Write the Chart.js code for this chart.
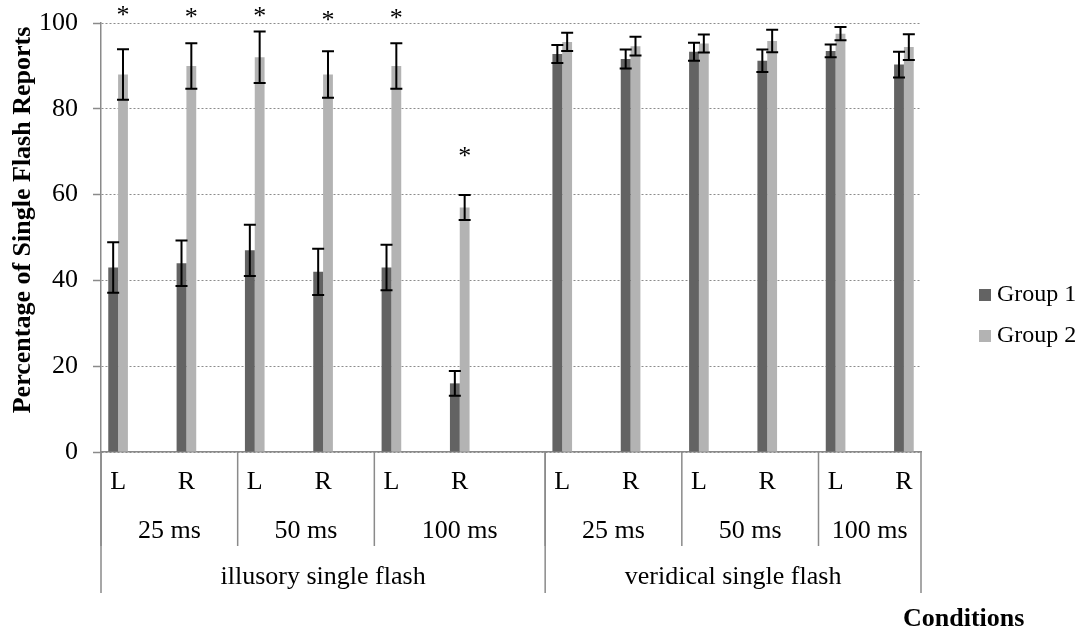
<!DOCTYPE html>
<html>
<head>
<meta charset="utf-8">
<script src="https://cdn.jsdelivr.net/npm/chart.js@4.4.0/dist/chart.umd.min.js"></script>
<style>
  html, body { margin: 0; padding: 0; background: #fff; }
  #wrap { width: 1080px; height: 633px; }
</style>
</head>
<body>
<div id="wrap"><canvas id="myChart" width="1080" height="633"></canvas></div>
<script>
// --- data ---
const sides = ['L', 'R', 'L', 'R', 'L', 'R', 'L', 'R', 'L', 'R', 'L', 'R'];
const durations = ['25 ms', '50 ms', '100 ms', '25 ms', '50 ms', '100 ms'];
const conditions = ['illusory single flash', 'veridical single flash'];

const group1 = [43, 44, 47, 42, 43, 16, 92.8, 91.6, 93.3, 91.2, 93.5, 90.3];
const group1Err = [5.9, 5.3, 6, 5.4, 5.3, 2.9, 2.1, 2.2, 2.1, 2.6, 1.5, 3];
const group2 = [88, 90, 92, 88, 90, 57, 95.6, 94.6, 95.2, 95.8, 97.5, 94.4];
const group2Err = [5.9, 5.3, 6, 5.4, 5.3, 2.9, 2.1, 2.2, 2.1, 2.6, 1.55, 3];
// level (in % units) where the significance asterisk sits, null = none
const starLevels = [102.6, 102.1, 102.4, 101.3, 101.8, 69.6, null, null, null, null, null, null];

const yTicks = [0, 20, 40, 60, 80, 100];

const serif = "'Liberation Serif', 'Times New Roman', serif";
const axisGray = '#8a8a8a';

// the original axis puts each bar pair in a half-width slot, with a wider gap
// between the two conditions -> 24 half-slots on a category axis
const SLOTS = 24;
const slotOf = i => (i < 6 ? 2 * i : 2 * i + 1);

function spread(values) {
    const out = new Array(SLOTS).fill(null);
    values.forEach((v, i) => { out[slotOf(i)] = v; });
    return out;
}
const slotLabels = spread(sides).map(s => s || '');

const data = {
    labels: slotLabels,
    datasets: [{
        label: 'Group 1',
        backgroundColor: '#636363',
        data: spread(group1),
        errors: spread(group1Err),
    }, {
        label: 'Group 2',
        backgroundColor: '#b3b3b3',
        data: spread(group2),
        errors: spread(group2Err),
    }],
};

// error bars, asterisks, the nested category labels and the legend
const extras = {
    id: 'extras',
    afterDatasetsDraw(chart) {
        const { ctx, scales: { y } } = chart;
        ctx.save();
        ctx.strokeStyle = '#000';
        ctx.lineWidth = 2;
        chart.data.datasets.forEach((ds, di) => {
            chart.getDatasetMeta(di).data.forEach((bar, j) => {
                const v = ds.data[j];
                if (v == null) return;
                const top = y.getPixelForValue(v + ds.errors[j]);
                const bot = y.getPixelForValue(v - ds.errors[j]);
                ctx.beginPath();
                ctx.moveTo(bar.x, top); ctx.lineTo(bar.x, bot);
                ctx.moveTo(bar.x - 6, top); ctx.lineTo(bar.x + 6, top);
                ctx.moveTo(bar.x - 6, bot); ctx.lineTo(bar.x + 6, bot);
                ctx.stroke();
            });
        });

        ctx.fillStyle = '#000';
        ctx.font = '26px ' + serif;
        ctx.textAlign = 'center';
        ctx.textBaseline = 'alphabetic';
        const g2 = chart.getDatasetMeta(1).data;
        starLevels.forEach((lvl, i) => {
            if (lvl == null) return;
            ctx.fillText('*', g2[slotOf(i)].x, y.getPixelForValue(lvl) + 11);
        });
        ctx.restore();
    },
    afterDraw(chart) {
        const { ctx, scales: { x, y } } = chart;
        const edge = s => x.getPixelForValue(s - 0.5);
        const base = y.bottom;
        ctx.save();
        ctx.strokeStyle = axisGray;
        ctx.lineWidth = 1.5;

        // duration cells
        const durStart = durations.map((d, k) => slotOf(2 * k));
        durStart.forEach(s => {
            ctx.beginPath();
            ctx.moveTo(edge(s), base); ctx.lineTo(edge(s), 546);
            ctx.stroke();
        });
        // condition cells
        const condStart = conditions.map((c, k) => slotOf(6 * k));
        condStart.concat([SLOTS]).forEach(s => {
            ctx.beginPath();
            ctx.moveTo(edge(s), base); ctx.lineTo(edge(s), 593);
            ctx.stroke();
        });

        ctx.fillStyle = '#000';
        ctx.font = '26px ' + serif;
        ctx.textAlign = 'center';
        ctx.textBaseline = 'middle';
        durations.forEach((d, k) => {
            const a = edge(durStart[k]);
            const b = edge(k + 1 < durStart.length ? durStart[k + 1] : SLOTS);
            ctx.fillText(d, (a + b) / 2, 531);
        });
        conditions.forEach((c, k) => {
            const a = edge(condStart[k]);
            const b = edge(k + 1 < condStart.length ? condStart[k + 1] : SLOTS);
            ctx.fillText(c, (a + b) / 2, 577);
        });

        // axis titles
        ctx.font = 'bold 26px ' + serif;
        ctx.textAlign = 'left';
        ctx.fillText('Conditions', 903, 619);
        ctx.save();
        ctx.translate(23, 220);
        ctx.rotate(-Math.PI / 2);
        ctx.textAlign = 'center';
        ctx.fillText('Percentage of Single Flash Reports', 0, 0);
        ctx.restore();

        // legend
        ctx.font = '24px ' + serif;
        ctx.textAlign = 'left';
        chart.data.datasets.forEach((ds, i) => {
            const cy = 295 + i * 41;
            ctx.fillStyle = ds.backgroundColor;
            ctx.fillRect(979, cy - 6, 12, 12);
            ctx.fillStyle = '#000';
            ctx.fillText(ds.label, 997, cy);
        });
        ctx.restore();
    },
};

const config = {
    type: 'bar',
    data: data,
    options: {
        responsive: false,
        animation: false,
        devicePixelRatio: 1,
        layout: { padding: { left: 0, right: 159, top: 23, bottom: 0 } },
        datasets: {
            bar: { categoryPercentage: 0.575, barPercentage: 1, borderWidth: 0 },
        },
        plugins: {
            legend: { display: false },
            tooltip: { enabled: false },
        },
        scales: {
            x: {
                grid: { display: false, drawTicks: false },
                border: { color: axisGray, width: 1.5 },
                ticks: {
                    autoSkip: false,
                    maxRotation: 0,
                    padding: 15,
                    color: '#000',
                    font: { family: serif, size: 26 },
                },
                afterFit: s => { s.height = 181; s.paddingLeft = 0; s.paddingRight = 0; },
            },
            y: {
                min: 0,
                max: 100,
                afterBuildTicks: s => { s.ticks = yTicks.map(v => ({ value: v })); },
                grid: { color: '#8c8c8c', lineWidth: 1, tickLength: 8, tickColor: axisGray, tickWidth: 1.5 },
                border: { color: axisGray, width: 1.5, dash: [2, 2] },
                ticks: {
                    padding: 15,
                    color: '#000',
                    font: { family: serif, size: 26 },
                },
                afterFit: s => { s.width = 101; s.paddingTop = 0; s.paddingBottom = 0; },
            },
        },
    },
    plugins: [extras],
};

const ctx = document.getElementById('myChart').getContext('2d');
const myChart = new Chart(ctx, config);
</script>
</body>
</html>
